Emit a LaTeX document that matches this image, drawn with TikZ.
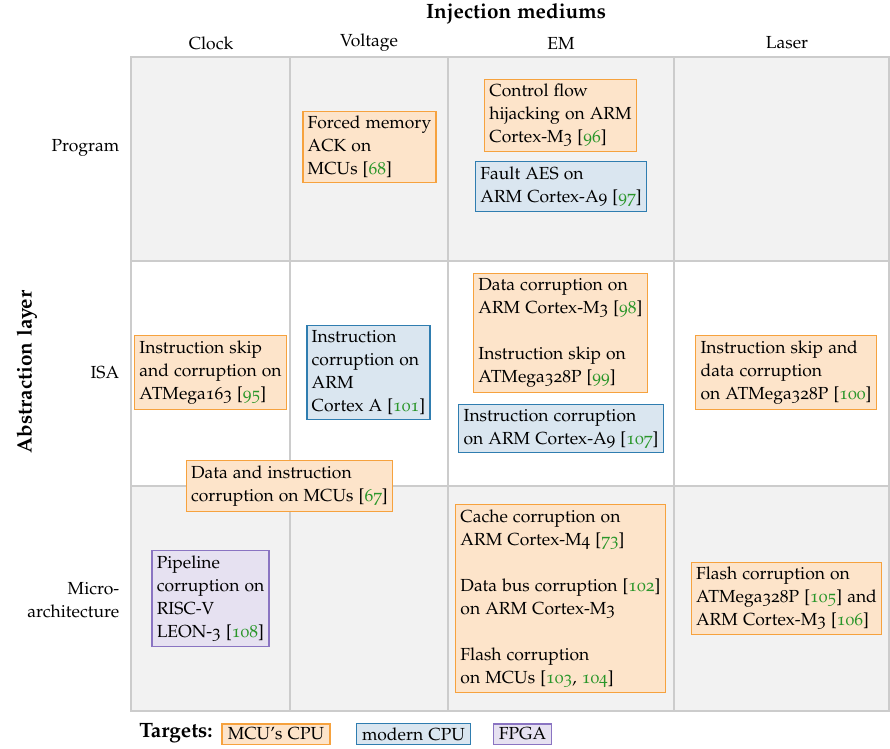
\documentclass[tikz,border=0pt]{standalone}
\usepackage[T1]{fontenc}
\usepackage[osf]{mathpazo}
\usetikzlibrary{positioning}

\definecolor{mcufill}{HTML}{FDE4CA}
\definecolor{mcudraw}{HTML}{F6A23E}
\definecolor{modfill}{HTML}{DAE6F0}
\definecolor{moddraw}{HTML}{2F7DB0}
\definecolor{fpgafill}{HTML}{E6E1F1}
\definecolor{fpgadraw}{HTML}{8A74C2}
\definecolor{cellgray}{HTML}{F2F2F2}
\definecolor{gridgray}{HTML}{CCCCCC}
\definecolor{citegreen}{HTML}{2A962A}
\newcommand{\refcite}[1]{[\textcolor{citegreen}{#1}]}

\begin{document}
\begin{tikzpicture}[
		x=0.5208pt, y=-0.5208pt,
		font=\fontsize{9.1}{12}\selectfont,
		attack/.style={draw, line width=0.6pt, align=left, inner xsep=2.5pt, inner ysep=2.5pt},
		mcu/.style={attack, fill=mcufill, draw=mcudraw},
		modern/.style={attack, fill=modfill, draw=moddraw},
		fpga/.style={attack, fill=fpgafill, draw=fpgadraw},
		legend/.style={draw, line width=0.6pt, inner xsep=3pt, inner ysep=2pt},
		heading/.style={font=\fontsize{10.8}{13}\selectfont\bfseries},
		gridline/.style={draw=gridgray, line width=0.8pt},
		medium/.style={anchor=center},
		layer/.style={anchor=east, align=right},
	]
		\useasboundingbox (0,0) rectangle (890,749);

		% grid of cells
		\fill[cellgray] (131,57) rectangle (889,261);
		\fill[cellgray] (131,486) rectangle (889,711);
		\draw[gridline] (131,57) rectangle (889,711);
		\foreach \x in {290,448,674}
			\draw[gridline] (\x,57) -- (\x,711);
		\foreach \y in {261,486}
			\draw[gridline] (131,\y) -- (889,\y);

		% axis titles
		\node (inj) [heading] at (516,14) {Injection mediums};
		\node (abs) [heading, rotate=90] at (27,372) {Abstraction layer};

		\node (clock) [medium] at (211,43) {Clock};
		\node (volt) [medium] at (369,43) {Voltage};
		\node (em) [medium] at (561,43) {EM};
		\node (laser) [medium] at (787,43) {Laser};

		\node (prog) [layer] at (126,148) {Program};
		\node (isa) [layer] at (126,373) {ISA};
		\node (micro) [layer] at (126,600) {Micro-\\architecture};

		% program layer
		\node (forced) [mcu] at (369.5,147) {Forced memory\\ACK on\\MCUs \refcite{68}};
		\node (cfh) [mcu] at (560.5,115.5) {Control flow\\hijacking on ARM\\Cortex-M3 \refcite{96}};
		\node (aes) [modern] at (561,186.5) {Fault AES on\\ARM Cortex-A9 \refcite{97}};

		% ISA layer
		\node (skipa) [mcu] at (210.5,372.5) {Instruction skip\\and corruption on\\ATMega163 \refcite{95}};
		\node (cortexa) [modern] at (368.5,372.5) {Instruction\\corruption on\\ARM\\Cortex A \refcite{101}};
		\node (m3isa) [mcu] at (560.5,333) {Data corruption on\\ARM Cortex-M3 \refcite{98}\\[12pt]Instruction skip on\\ATMega328P \refcite{99}};
		\node (a9isa) [modern] at (561,428.5) {Instruction corruption\\on ARM Cortex-A9 \refcite{107}};
		\node (skipb) [mcu] at (786,372.5) {Instruction skip and\\data corruption\\on ATMega328P \refcite{100}};
		\node (datains) [mcu] at (289.5,486) {Data and instruction\\corruption on MCUs \refcite{67}};

		% micro-architecture layer
		\node (pipe) [fpga] at (210.5,598.5) {Pipeline\\corruption on\\RISC-V\\LEON-3 \refcite{108}};
		\node (cache) [mcu] at (560.5,598.5) {Cache corruption on\\ARM Cortex-M4 \refcite{73}\\[12pt]Data bus corruption \refcite{102}\\on ARM Cortex-M3\\[12pt]Flash corruption\\on MCUs [\textcolor{citegreen}{103}, \textcolor{citegreen}{104}]};
		\node (flash) [mcu] at (786.5,598.5) {Flash corruption on\\ATMega328P \refcite{105} and\\ARM Cortex-M3 \refcite{106}};

		% targets legend
		\node (targets) [heading] at (176,733) {Targets:};
		\node (lmcu) [legend, fill=mcufill, draw=mcudraw] at (276,734) {MCU's CPU};
		\node (lmod) [legend, fill=modfill, draw=moddraw] at (413.5,734) {modern CPU};
		\node (lfpga) [legend, fill=fpgafill, draw=fpgadraw] at (522.5,734) {FPGA};
	\end{tikzpicture}
\end{document}
